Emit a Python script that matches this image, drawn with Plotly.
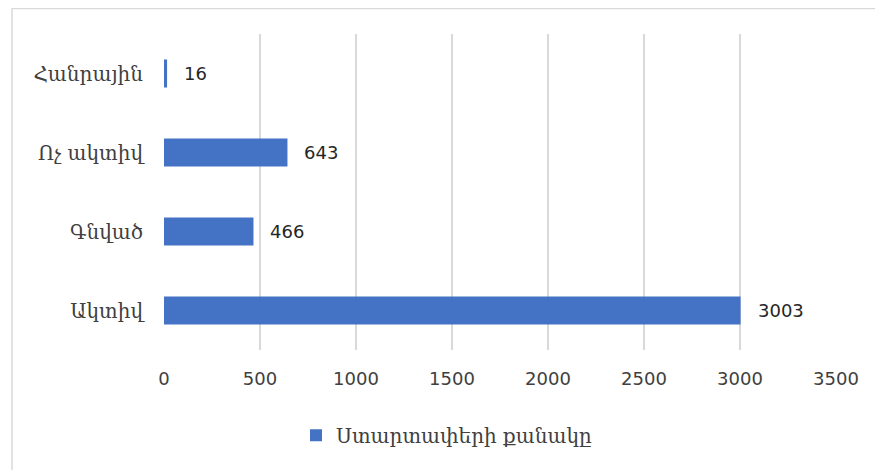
import plotly.graph_objects as go

categories = ["Ակտիվ", "Գնված", "Ոչ ակտիվ", "Հանրային"]
values = [3003, 466, 643, 16]
series_name = "Ստարտափերի քանակը"
x_ticks = [0, 500, 1000, 1500, 2000, 2500, 3000, 3500]

BAR = "#4472C4"
GRID = "#d9d9d9"
TXT = "#404040"

# page has an 8px body margin; figure sized/placed to compensate
W, H = 875, 462
L, R, T, B = 156, 47, 26, 120
PW, PH = W - L - R, H - T - B

fig = go.Figure()
fig.add_trace(go.Bar(
    x=values, y=categories, orientation="h", name=series_name,
    marker=dict(color=BAR, line=dict(width=0)),
    width=0.355, showlegend=True,
))

for c, v in zip(categories, values):
    fig.add_annotation(x=v, y=c, text=str(v), showarrow=False,
                       xanchor="left", yanchor="middle", xshift=15,
                       font=dict(family="DejaVu Sans", size=18, color="#262626"))

# outer frame
fig.add_shape(type="rect", xref="paper", yref="paper",
              x0=(4 - L) / PW, x1=1.3, y0=-0.6, y1=(PH + T - 0.5) / PH,
              line=dict(color=GRID, width=1.5), fillcolor="rgba(0,0,0,0)", layer="below")

fig.update_layout(
    width=W, height=H,
    margin=dict(l=L, r=R, t=T, b=B),
    paper_bgcolor="white", plot_bgcolor="white",
    xaxis=dict(range=[0, 3500], tickvals=x_ticks, ticktext=[str(t) for t in x_ticks],
               showgrid=True, gridcolor=GRID, gridwidth=1.5, zeroline=False,
               showline=False, ticks="", ticklabelstandoff=16,
               tickfont=dict(family="DejaVu Sans", size=18, color=TXT)),
    yaxis=dict(categoryorder="array", categoryarray=categories,
               showgrid=False, zeroline=False, showline=False, ticks="",
               ticklabelstandoff=20,
               tickfont=dict(family="DejaVu Serif", size=20, color=TXT)),
    legend=dict(orientation="h", x=(288 - L) / PW, xanchor="left", y=-0.27, yanchor="middle",
                font=dict(family="DejaVu Serif", size=20, color=TXT),
                itemwidth=30),
)

fig.write_html("out.html")
